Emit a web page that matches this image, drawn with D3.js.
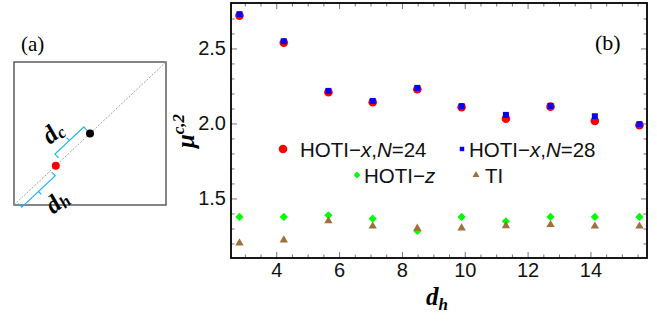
<!DOCTYPE html>
<html>
<head>
<meta charset="utf-8">
<script src="https://cdn.jsdelivr.net/npm/d3@7"></script>
<style>
  body { margin: 0; background: #fff; }
  svg { display: block; }
  .tick-label { font-family: "Liberation Sans", Arial, sans-serif; font-size: 20px; fill: #111; }
  .legend { font-family: "Liberation Sans", Arial, sans-serif; font-size: 20.5px; fill: #111; }
  .serif { font-family: "Liberation Serif", "Times New Roman", serif; }
</style>
</head>
<body>
<svg id="chart" width="657" height="322"></svg>
<script>
// d_h values (x)
const dh = [2.83, 4.24, 5.66, 7.07, 8.49, 9.90, 11.31, 12.73, 14.14, 15.56];
// mu^{c,2} values
const hotiX24 = [2.719, 2.539, 2.208, 2.141, 2.228, 2.108, 2.032, 2.112, 2.017, 1.988];
const hotiX28 = [2.728, 2.548, 2.217, 2.150, 2.237, 2.115, 2.057, 2.117, 2.048, 1.995];
const hotiZ = [1.377, 1.377, 1.388, 1.365, 1.283, 1.377, 1.348, 1.377, 1.377, 1.377];
const ti = [1.203, 1.223, 1.350, 1.315, 1.301, 1.303, 1.317, 1.325, 1.315, 1.315];
const xTicks = [4, 6, 8, 10, 12, 14];
const yTicks = [1.5, 2.0, 2.5];

const svg = d3.select('#chart');

// ---------- panel (a): schematic ----------
const pa = svg.append('g');
const sq = {x0: 14, y0: 62, x1: 166, y1: 205};
pa.append('text').attr('class', 'serif').attr('x', 21).attr('y', 51)
  .attr('font-size', 21).text('(a)');
pa.append('rect').attr('x', sq.x0).attr('y', sq.y0)
  .attr('width', sq.x1 - sq.x0).attr('height', sq.y1 - sq.y0)
  .attr('fill', 'none').attr('stroke', '#444').attr('stroke-width', 1.3);
pa.append('line').attr('x1', sq.x0).attr('y1', sq.y1).attr('x2', sq.x1).attr('y2', sq.y0)
  .attr('stroke', '#999').attr('stroke-width', 0.9).attr('stroke-dasharray', '2,1.5');

// positions along the diagonal (fraction from bottom-left corner)
const diag = t => [sq.x0 + t * (sq.x1 - sq.x0), sq.y1 - t * (sq.y1 - sq.y0)];
const ux = (sq.x1 - sq.x0), uy = -(sq.y1 - sq.y0);
const ul = Math.hypot(ux, uy);
const u = [ux / ul, uy / ul];
const nUL = [u[1], -u[0]]; // perpendicular towards upper-left
const tRed = 0.275, tBlack = 0.5;

function bracket(t0, t1, side, off) {
  const n = [nUL[0] * side, nUL[1] * side];
  const p0 = diag(t0), p1 = diag(t1);
  const a = [p0[0] + n[0] * off, p0[1] + n[1] * off];
  const b = [p1[0] + n[0] * off, p1[1] + n[1] * off];
  const cap = 5, tick = 4;
  const m = [(a[0] + b[0]) / 2, (a[1] + b[1]) / 2];
  const path = d3.path();
  path.moveTo(a[0] - n[0] * cap, a[1] - n[1] * cap);
  path.lineTo(a[0], a[1]);
  path.lineTo(b[0], b[1]);
  path.lineTo(b[0] - n[0] * cap, b[1] - n[1] * cap);
  path.moveTo(m[0], m[1]);
  path.lineTo(m[0] + n[0] * tick, m[1] + n[1] * tick);
  pa.append('path').attr('d', path.toString()).attr('fill', 'none')
    .attr('stroke', '#29b6f6').attr('stroke-width', 1.2);
}
bracket(tRed + 0.035, tBlack, 1, 9);
bracket(0.02, tRed - 0.035, -1, 7);

function rotLabel(cx, cy, sub) {
  const g = pa.append('g').attr('transform', 'translate(' + cx + ',' + cy + ') rotate(-40)');
  const t = g.append('text').attr('class', 'serif').attr('font-size', 25)
    .attr('font-weight', 'bold').attr('font-style', 'italic')
    .attr('text-anchor', 'middle').attr('y', 6);
  t.append('tspan').text('d');
  t.append('tspan').attr('font-size', 17).attr('dy', 3).text(sub);
}
rotLabel(54, 134, 'c');
rotLabel(58, 203, 'h');

const red = diag(tRed), black = diag(tBlack);
pa.append('circle').attr('cx', red[0]).attr('cy', red[1]).attr('r', 4).attr('fill', '#f00');
pa.append('circle').attr('cx', black[0]).attr('cy', black[1]).attr('r', 4).attr('fill', '#000');

// ---------- panel (b): scatter ----------
const plot = {left: 231, right: 647, top: 3, bottom: 258};
const x = d3.scaleLinear().domain([2.56, 15.8]).range([plot.left, plot.right]);
const y = d3.scaleLinear().domain([1.103, 2.803]).range([plot.bottom, plot.top]);

const minorX = d3.range(3, 15.8, 0.5).filter(v => !xTicks.includes(v));
const minorY = d3.range(1.2, 2.8, 0.1).map(v => +v.toFixed(2)).filter(v => !yTicks.includes(v));

function frameAxis(axisFn, scale, pos, major, minor, labels) {
  const gMin = svg.append('g').attr('transform', pos)
    .call(axisFn(scale).tickValues(minor).tickSize(-3.5).tickFormat(''));
  const gMaj = svg.append('g').attr('transform', pos)
    .call(axisFn(scale).tickValues(major).tickSize(-6).tickPadding(5)
      .tickFormat(labels ? d3.format('.1~f') : ''));
  [gMin, gMaj].forEach(g => {
    g.select('.domain').remove();
    g.selectAll('line').attr('stroke', '#777').attr('stroke-width', 1);
    g.selectAll('text').attr('class', 'tick-label').attr('font-size', null).attr('font-family', null);
  });
  return gMaj;
}
frameAxis(d3.axisBottom, x, 'translate(0,' + plot.bottom + ')', xTicks, minorX, true);
frameAxis(d3.axisTop, x, 'translate(0,' + plot.top + ')', xTicks, minorX, false);
const gy = frameAxis(d3.axisLeft, y, 'translate(' + plot.left + ',0)', yTicks, minorY, true);
gy.selectAll('text').text(d => d3.format('.1f')(d));
frameAxis(d3.axisRight, y, 'translate(' + plot.right + ',0)', yTicks, minorY, false);

svg.append('rect').attr('x', plot.left).attr('y', plot.top)
  .attr('width', plot.right - plot.left).attr('height', plot.bottom - plot.top)
  .attr('fill', 'none').attr('stroke', '#000').attr('stroke-width', 1.8);

// diamond: a square turned by 45 degrees
const diamond = {draw(ctx, size) {
  const r = Math.sqrt(size / 2);
  ctx.moveTo(0, -r); ctx.lineTo(r, 0); ctx.lineTo(0, r); ctx.lineTo(-r, 0); ctx.closePath();
}};

const series = [
  {vals: hotiX24, color: '#ff0000', shape: d3.symbolCircle, size: 58},
  {vals: hotiX28, color: '#0000ff', shape: d3.symbolSquare, size: 36},
  {vals: hotiZ, color: '#00ff00', shape: diamond, size: 34},
  {vals: ti, color: '#a0703a', shape: d3.symbolTriangle, size: 30}
];
series.forEach(s => {
  svg.append('g').selectAll('path').data(s.vals).join('path')
    .attr('transform', (d, i) => 'translate(' + x(dh[i]) + ',' + y(d) + ')')
    .attr('d', d3.symbol().type(s.shape).size(s.size))
    .attr('fill', s.color);
});

// legend
const legendItems = [
  {s: 0, mx: 283, tx: 300, y: 149, k: 1, parts: [['HOTI−', null], ['x', 'italic'], [',', null], ['N', 'italic'], ['=24', null]]},
  {s: 1, mx: 462, tx: 469, y: 149, k: 0.55, parts: [['HOTI−', null], ['x', 'italic'], [',', null], ['N', 'italic'], ['=28', null]]},
  {s: 2, mx: 357, tx: 364, y: 175, k: 0.7, parts: [['HOTI−', null], ['z', 'italic']]},
  {s: 3, mx: 476, tx: 485, y: 175, k: 0.7, parts: [['TI', null]]}
];
legendItems.forEach(it => {
  const s = series[it.s];
  svg.append('path').attr('transform', 'translate(' + it.mx + ',' + it.y + ')')
    .attr('d', d3.symbol().type(s.shape).size(s.size * it.k))
    .attr('fill', s.color);
  const t = svg.append('text').attr('class', 'legend').attr('x', it.tx).attr('y', it.y + 7.5);
  it.parts.forEach(p => t.append('tspan').attr('font-style', p[1]).text(p[0]));
});

svg.append('text').attr('class', 'serif').attr('x', 595).attr('y', 50)
  .attr('font-size', 22).text('(b)');

// axis labels
const xl = svg.append('text').attr('class', 'serif').attr('x', 437).attr('y', 305)
  .attr('text-anchor', 'middle').attr('font-size', 25)
  .attr('font-weight', 'bold').attr('font-style', 'italic');
xl.append('tspan').text('d');
xl.append('tspan').attr('font-size', 17).attr('dy', 5).text('h');

const yl = svg.append('text').attr('class', 'serif')
  .attr('transform', 'translate(194,131) rotate(-90)')
  .attr('text-anchor', 'middle').attr('font-size', 25)
  .attr('font-weight', 'bold').attr('font-style', 'italic');
yl.append('tspan').text('μ');
yl.append('tspan').attr('font-size', 17).attr('dy', -10).text('c,2');
</script>
</body>
</html>
